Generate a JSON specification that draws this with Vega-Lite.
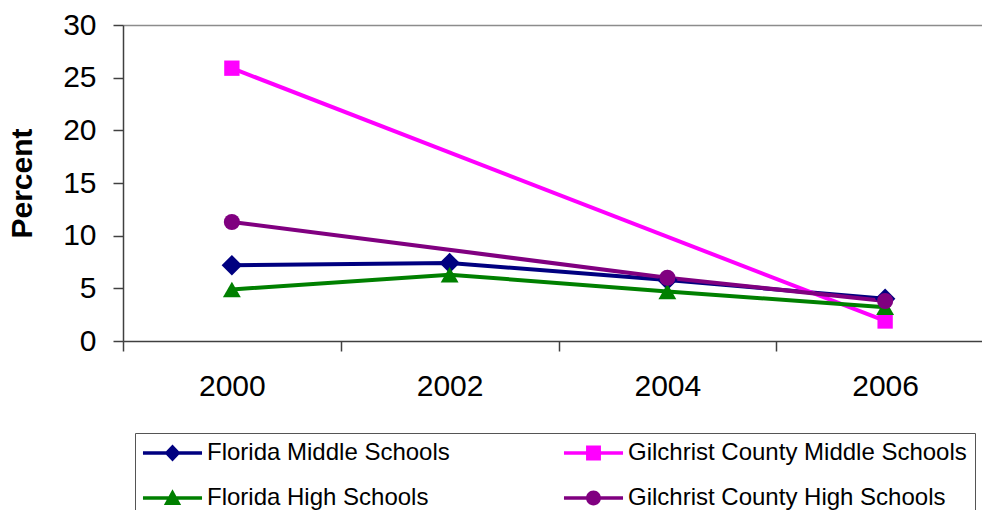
{
  "$schema": "https://vega.github.io/schema/vega-lite/v6.json",
  "width": 859,
  "height": 316,
  "autosize": {"type": "none"},
  "padding": {"left": 123, "top": 25, "right": 0, "bottom": 169},
  "background": "white",
  "config": {"view": {"stroke": null}, "font": "Liberation Sans"},
  "data": {
    "values": [
      {"series": "Florida Middle Schools", "year": "2000", "value": 7.2},
      {"series": "Florida Middle Schools", "year": "2002", "value": 7.4},
      {"series": "Florida Middle Schools", "year": "2004", "value": 5.8},
      {"series": "Florida Middle Schools", "year": "2006", "value": 4.0},
      {"series": "Gilchrist County Middle Schools", "year": "2000", "value": 25.9},
      {"series": "Gilchrist County Middle Schools", "year": "2006", "value": 1.9},
      {"series": "Florida High Schools", "year": "2000", "value": 4.9},
      {"series": "Florida High Schools", "year": "2002", "value": 6.3},
      {"series": "Florida High Schools", "year": "2004", "value": 4.7},
      {"series": "Florida High Schools", "year": "2006", "value": 3.2},
      {"series": "Gilchrist County High Schools", "year": "2000", "value": 11.3},
      {"series": "Gilchrist County High Schools", "year": "2004", "value": 6.0},
      {"series": "Gilchrist County High Schools", "year": "2006", "value": 3.8}
    ]
  },
  "encoding": {
    "x": {
      "field": "year", "type": "ordinal",
      "scale": {"type": "band", "range": [0, 871], "paddingInner": 0, "paddingOuter": 0},
      "axis": {
        "orient": "bottom", "title": null, "labelAngle": 0, "labelFontSize": 30,
        "labelFont": "Liberation Sans", "labelColor": "black", "labelPadding": 20,
        "tickBand": "extent", "tickSize": 10, "tickColor": "#404040", "tickWidth": 1.5,
        "domainColor": "#404040", "domainWidth": 1.5, "grid": false
      }
    },
    "y": {
      "field": "value", "type": "quantitative",
      "scale": {"domain": [0, 30], "nice": false},
      "axis": {
        "title": "Percent", "titleFontSize": 30, "titleFontWeight": "bold",
        "titleFont": "Liberation Sans", "titleColor": "black",
        "titleX": -92, "titleY": 158, "titleBaseline": "alphabetic", "titleAngle": -90, "titleAlign": "center",
        "values": [0, 5, 10, 15, 20, 25, 30],
        "labelFontSize": 30, "labelFont": "Liberation Sans", "labelColor": "black",
        "labelPadding": 17, "labelFlush": false, "labelOverlap": false,
        "tickSize": 10, "tickColor": "#404040", "tickWidth": 1.5,
        "domainColor": "#404040", "domainWidth": 1.5, "grid": false
      }
    },
    "color": {
      "field": "series", "type": "nominal",
      "scale": {
        "domain": ["Florida Middle Schools", "Gilchrist County Middle Schools", "Florida High Schools", "Gilchrist County High Schools"],
        "range": ["#000080", "#FF00FF", "#008000", "#800080"]
      },
      "legend": {
        "orient": "none", "legendX": 12, "legendY": 408, "columns": 2, "direction": "horizontal", "title": null,
        "padding": 8, "strokeColor": "#555555", "fillColor": "white",
        "labelFont": "Liberation Sans", "labelFontSize": 24, "labelColor": "black", "labelLimit": 600,
        "symbolSize": 576, "symbolOffset": 17.5, "labelOffset": 22.5,
        "columnPadding": 113, "rowPadding": 21, "symbolStrokeWidth": 0, "symbolOpacity": 1
      }
    }
  },
  "layer": [
    {
      "mark": {"type": "point", "filled": true, "opacity": 0},
      "encoding": {
        "shape": {
          "field": "series", "type": "nominal",
          "scale": {
            "domain": ["Florida Middle Schools", "Gilchrist County Middle Schools", "Florida High Schools", "Gilchrist County High Schools"],
            "range": [
              "M-2.46,-0.14H2.46V0.14H-2.46Z M0,-0.7L0.67,0L0,0.7L-0.67,0Z",
              "M-2.46,-0.14H2.46V0.14H-2.46Z M-0.62,-0.62H0.62V0.62H-0.62Z",
              "M-2.46,-0.14H2.46V0.14H-2.46Z M0,-0.72L0.72,0.58H-0.72Z",
              "M-2.46,-0.14H2.46V0.14H-2.46Z M0.62,0A0.62,0.62 0 1 1 -0.62,0A0.62,0.62 0 1 1 0.62,0Z"
            ]
          },
          "legend": null
        }
      }
    },
    {
      "mark": {"type": "line", "strokeWidth": 4},
      "encoding": {
        "x": {
          "field": "year", "type": "ordinal",
          "scale": {"type": "band", "range": [0, 871], "paddingInner": 0, "paddingOuter": 0},
          "axis": {"orient": "top", "title": null, "labels": false, "ticks": false, "domainColor": "#8c8c8c", "domainWidth": 1.5, "grid": false}
        }
      }
    },
    {
      "transform": [{"filter": "datum.series === 'Florida Middle Schools'"}],
      "mark": {"type": "point", "filled": true, "opacity": 1, "size": 420, "shape": "diamond"},
      "encoding": {"x": {"field": "year", "type": "ordinal", "axis": null}}
    },
    {
      "transform": [{"filter": "datum.series === 'Gilchrist County Middle Schools'"}],
      "mark": {"type": "point", "filled": true, "opacity": 1, "size": 235, "shape": "square"},
      "encoding": {"x": {"field": "year", "type": "ordinal", "axis": null}}
    },
    {
      "transform": [{"filter": "datum.series === 'Florida High Schools'"}],
      "mark": {"type": "point", "filled": true, "opacity": 1, "size": 320, "shape": "triangle-up"},
      "encoding": {"x": {"field": "year", "type": "ordinal", "axis": null}}
    },
    {
      "transform": [{"filter": "datum.series === 'Gilchrist County High Schools'"}],
      "mark": {"type": "point", "filled": true, "opacity": 1, "size": 260, "shape": "circle"},
      "encoding": {"x": {"field": "year", "type": "ordinal", "axis": null}}
    }
  ],
  "resolve": {"axis": {"x": "independent"}}
}
